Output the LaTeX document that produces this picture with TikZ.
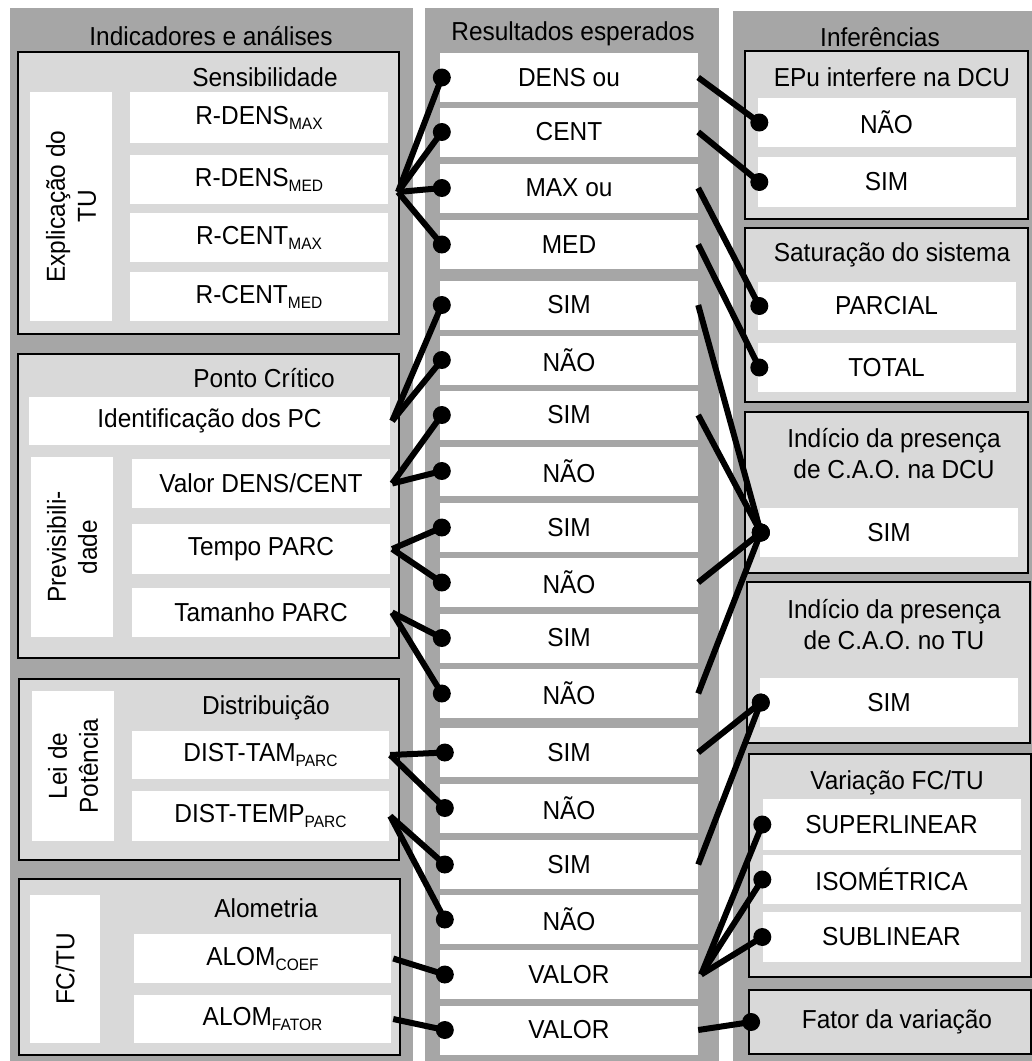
\documentclass[tikz,border=0pt]{standalone}
\usepackage{fontspec}
\setmainfont{Liberation Sans}[FakeStretch=0.94]
\definecolor{pdark}{RGB}{166,166,166}
\definecolor{plight}{RGB}{217,217,217}
\newcommand{\sbs}[1]{\raisebox{-5pt}{\fontsize{16.5}{16.5}\selectfont #1}}
\newcommand{\lnk}[2]{\draw[conn] (#1) -- (#2); \fill (#2) circle (9pt);}
\begin{document}
\begin{tikzpicture}[x=1pt,y=-1pt,
  every node/.style={font=\fontsize{26}{31}\selectfont},
  panel/.style={fill=pdark,draw=none},
  subbox/.style={fill=plight,draw=black,line width=1.8pt},
  wbox/.style={fill=white,draw=none,inner sep=0pt,align=center},
  mbox/.style={wbox,minimum width=258pt,minimum height=49pt},
  conn/.style={line width=6pt,black}]
\useasboundingbox (0,0) rectangle (1032,1061);
% panels
\fill[panel] (10,8) rectangle (413,1061);
\fill[panel] (425,8) rectangle (719,1061);
\fill[panel] (733,11) rectangle (1032,1061);
\node (hL) at (211,36) {Indicadores e análises};
\node (hM) at (573,34) {Resultados esperados};
\node (hR) at (880,37) {Inferências};
% left sub boxes
\draw[subbox] (18,52) rectangle (399,334);
\draw[subbox] (18,354) rectangle (399,658);
\draw[subbox] (19,679) rectangle (399,860);
\draw[subbox] (19,879) rectangle (400,1055);
\node (tSens) at (265,77) {Sensibilidade};
\node (tPC) at (264,378) {Ponto Crítico};
\node (tDist) at (266,708) {Distribuição};
\node (tAlom) at (266,908) {Alometria};
\node[wbox,rotate=90,minimum width=229pt,minimum height=82pt] (explic) at (71,206.5) {Explicação do\\TU};
\node[wbox,minimum width=258pt,minimum height=51pt] (rdmax) at (259,117.5) {R-DENS\sbs{MAX}};
\node[wbox,minimum width=258pt,minimum height=49pt] (rdmed) at (259,179.5) {R-DENS\sbs{MED}};
\node[wbox,minimum width=258pt,minimum height=49pt] (rcmax) at (259,237.5) {R-CENT\sbs{MAX}};
\node[wbox,minimum width=258pt,minimum height=49pt] (rcmed) at (259,296.5) {R-CENT\sbs{MED}};
\node[wbox,minimum width=361pt,minimum height=48pt] (ident) at (209.5,421) {Identificação dos PC};
\node[wbox,rotate=90,minimum width=180pt,minimum height=82pt] (previs) at (72,547) {Previsibili-\\dade};
\node[wbox,minimum width=258pt,minimum height=49pt] (valor) at (261,483.5) {Valor DENS/CENT};
\node[wbox,minimum width=258pt,minimum height=50pt] (tempo) at (261,549) {Tempo PARC};
\node[wbox,minimum width=258pt,minimum height=49pt] (taman) at (261,612.5) {Tamanho PARC};
\node[wbox,rotate=90,minimum width=150pt,minimum height=82pt] (lei) at (73,766) {Lei de\\Potência};
\node[wbox,minimum width=257pt,minimum height=48pt] (dtam) at (260.5,755) {DIST-TAM\sbs{PARC}};
\node[wbox,minimum width=257pt,minimum height=50pt] (dtemp) at (260.5,816) {DIST-TEMP\sbs{PARC}};
\node[wbox,rotate=90,minimum width=148pt,minimum height=70pt] (fctu) at (65,969) {FC/TU};
\node[wbox,minimum width=257pt,minimum height=49pt] (acoef) at (262.5,958.5) {ALOM\sbs{COEF}};
\node[wbox,minimum width=257pt,minimum height=48pt] (afator) at (262.5,1019) {ALOM\sbs{FATOR}};
% middle boxes
\foreach \n/\yy/\t in {1/77.5/DENS ou,2/132/CENT,3/188/MAX ou,4/244.5/MED,5/305/SIM,6/360/NÃO,7/415/SIM,8/471/NÃO,9/527.5/SIM,10/582.5/NÃO,11/638/SIM,12/693.5/NÃO,13/752.5/SIM,14/808/NÃO,15/864.5/SIM,16/919.5/NÃO,17/974.5/VALOR,18/1030/VALOR}
  \node[mbox] (m\n) at (569,\yy) {\t};
% right sub boxes
\draw[subbox] (745,51) rectangle (1028,219);
\draw[subbox] (745,228) rectangle (1028,402);
\draw[subbox] (745,412) rectangle (1028,573);
\draw[subbox] (747,582) rectangle (1030,743);
\draw[subbox] (749,754) rectangle (1031,977);
\node[subbox,minimum width=282pt,minimum height=64pt,inner sep=0pt] (fator) at (890,1022) {};
\node (fatorT) at (897,1022) {Fator da variação};
\node (tEPu) at (892,77) {EPu interfere na DCU};
\node (tSat) at (892,255) {Saturação do sistema};
\node[align=center] (tDCU) at (894,453.5) {Indício da presença\\de C.A.O. na DCU};
\node[align=center] (tTU) at (894,625) {Indício da presença\\de C.A.O. no TU};
\node (tVar) at (897,783) {Variação FC/TU};
\node[mbox] (rNao) at (886.5,122.5) {NÃO};
\node[mbox,minimum height=50pt] (rSim) at (886.5,182) {SIM};
\node[mbox,minimum height=48pt] (rParc) at (886.5,306) {PARCIAL};
\node[mbox] (rTot) at (886.5,367.5) {TOTAL};
\node[mbox] (rDCU) at (889,532.5) {SIM};
\node[mbox] (rTU) at (889,702.5) {SIM};
\node[mbox,minimum height=51pt] (rSup) at (891.5,824.5) {SUPERLINEAR};
\node[mbox] (rIso) at (891.5,879.5) {ISOMÉTRICA};
\node[mbox,minimum height=50pt] (rSub) at (891.5,937) {SUBLINEAR};
% junctions
\coordinate (j1) at (398,192);
\coordinate (j2) at ([xshift=2pt]ident.east);
\coordinate (j3) at ([xshift=2pt]valor.east);
\coordinate (j4) at ([xshift=2pt]tempo.east);
\coordinate (j5) at ([xshift=2pt]taman.east);
\coordinate (j6) at ([xshift=1pt]dtam.east);
\coordinate (j7) at ([xshift=1pt]dtemp.east);
\coordinate (j8) at ([xshift=2pt]acoef.east);
\coordinate (j9) at ([xshift=2pt]afator.east);
% left connectors
\lnk{j1}{[xshift=2pt]m1.west}
\lnk{j1}{[xshift=2pt]m2.west}
\lnk{j1}{[xshift=2pt]m3.west}
\lnk{j1}{[xshift=2pt]m4.west}
\lnk{j2}{[xshift=2pt]m5.west}
\lnk{j2}{[xshift=2pt]m6.west}
\lnk{j3}{[xshift=2pt]m7.west}
\lnk{j3}{[xshift=2pt]m8.west}
\lnk{j4}{[xshift=2pt]m9.west}
\lnk{j4}{[xshift=2pt]m10.west}
\lnk{j5}{[xshift=2pt]m11.west}
\lnk{j5}{[xshift=2pt]m12.west}
\lnk{j6}{[xshift=5pt]m13.west}
\lnk{j6}{[xshift=5pt]m14.west}
\lnk{j7}{[xshift=5pt]m15.west}
\lnk{j7}{[xshift=5pt]m16.west}
\lnk{j8}{[xshift=5pt]m17.west}
\lnk{j9}{[xshift=5pt]m18.west}
% right connectors
\lnk{m1.east}{[xshift=2pt]rNao.west}
\lnk{m2.east}{[xshift=2pt]rSim.west}
\lnk{m3.east}{[xshift=2pt]rParc.west}
\lnk{m4.east}{[xshift=2pt]rTot.west}
\lnk{m5.east}{[xshift=1pt]rDCU.west}
\lnk{m7.east}{[xshift=1pt]rDCU.west}
\lnk{m10.east}{[xshift=1pt]rDCU.west}
\lnk{m12.east}{[xshift=1pt]rDCU.west}
\lnk{m13.east}{[xshift=1pt]rTU.west}
\lnk{m15.east}{[xshift=1pt]rTU.west}
\lnk{[xshift=3pt]m17.east}{rSup.west}
\lnk{[xshift=3pt]m17.east}{rIso.west}
\lnk{[xshift=3pt]m17.east}{rSub.west}
\lnk{m18.east}{[xshift=3pt]fator.west}
\end{tikzpicture}
\end{document}
